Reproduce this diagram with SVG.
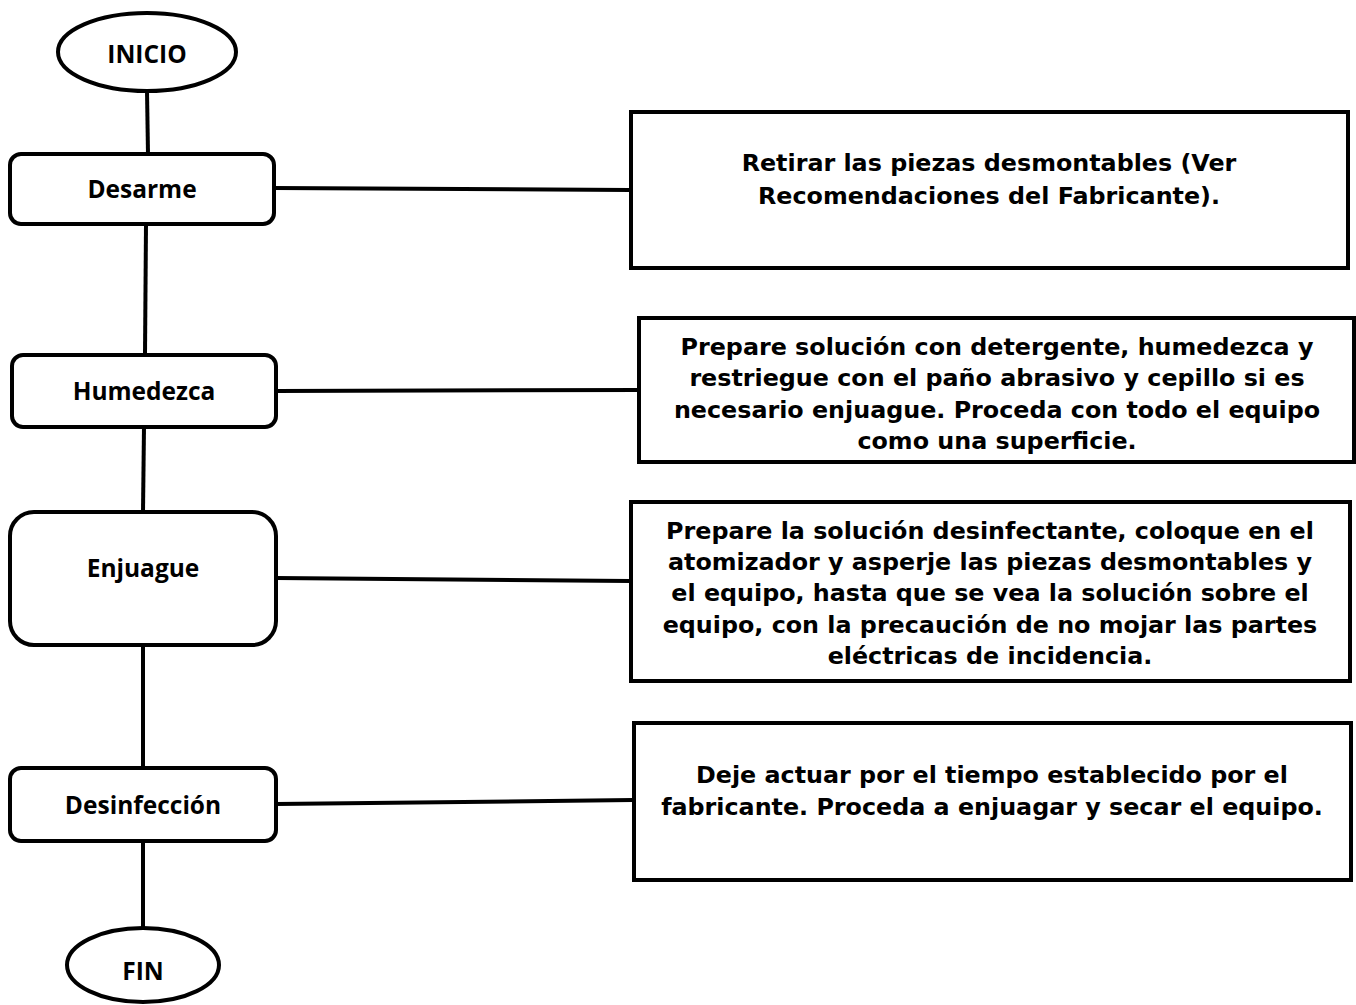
<svg xmlns="http://www.w3.org/2000/svg" width="1356" height="1005" viewBox="0 0 1356 1005">
<style>
.shape{fill:#fff;stroke:#000;stroke-width:4}
.conn line{stroke:#000;stroke-width:4}
.lbl{font-family:"Open Sans","Noto Sans","DejaVu Sans",sans-serif;font-weight:bold;font-size:24.5px;text-anchor:middle;fill:#000}
.desc{font-family:"DejaVu Sans","Verdana",sans-serif;font-weight:bold;font-size:23.8px;text-anchor:middle;fill:#000}
</style>
<rect width="1356" height="1005" fill="#fff"/>
<g class="conn" id="connectors">
<line x1="147" y1="91" x2="148" y2="154"/>
<line x1="146" y1="224" x2="145" y2="355"/>
<line x1="144" y1="427" x2="143" y2="512"/>
<line x1="143" y1="645" x2="143" y2="768"/>
<line x1="143" y1="841" x2="143" y2="928"/>
<line x1="274" y1="188" x2="630" y2="190"/>
<line x1="276" y1="391" x2="639" y2="390"/>
<line x1="276" y1="578" x2="630" y2="581"/>
<line x1="276" y1="804" x2="633" y2="800"/>
</g>
<g id="inicio"><ellipse class="shape" cx="147" cy="52" rx="89" ry="39"/><text class="lbl" x="147" y="63">INICIO</text></g>
<g id="desarme"><rect class="shape" x="10" y="154" width="264" height="70" rx="11"/><text class="lbl" x="142" y="198">Desarme</text></g>
<g id="humedezca"><rect class="shape" x="12" y="355" width="264" height="72" rx="11"/><text class="lbl" x="144" y="400">Humedezca</text></g>
<g id="enjuague"><rect class="shape" x="10" y="512" width="266" height="133" rx="24"/><text class="lbl" x="143" y="577">Enjuague</text></g>
<g id="desinfeccion"><rect class="shape" x="10" y="768" width="266" height="73" rx="11"/><text class="lbl" x="143" y="814">Desinfección</text></g>
<g id="fin"><ellipse class="shape" cx="143" cy="965" rx="76" ry="37"/><text class="lbl" x="143" y="980">FIN</text></g>
<g id="box1"><rect class="shape" x="631" y="112" width="717" height="156"/>
<text class="desc" x="989" y="171">Retirar las piezas desmontables (Ver</text>
<text class="desc" x="989" y="204">Recomendaciones del Fabricante).</text></g>
<g id="box2"><rect class="shape" x="639" y="318" width="715" height="144"/>
<text class="desc" x="997" y="355">Prepare solución con detergente, humedezca y</text>
<text class="desc" x="997" y="386">restriegue con el paño abrasivo y cepillo si es</text>
<text class="desc" x="997" y="418">necesario enjuague. Proceda con todo el equipo</text>
<text class="desc" x="997" y="449">como una superficie.</text></g>
<g id="box3"><rect class="shape" x="631" y="502" width="719" height="179"/>
<text class="desc" x="990" y="539">Prepare la solución desinfectante, coloque en el</text>
<text class="desc" x="990" y="570">atomizador y asperje las piezas desmontables y</text>
<text class="desc" x="990" y="601">el equipo, hasta que se vea la solución sobre el</text>
<text class="desc" x="990" y="633">equipo, con la precaución de no mojar las partes</text>
<text class="desc" x="990" y="664">eléctricas de incidencia.</text></g>
<g id="box4"><rect class="shape" x="634" y="723" width="717" height="157"/>
<text class="desc" x="992" y="783">Deje actuar por el tiempo establecido por el</text>
<text class="desc" x="992" y="815">fabricante. Proceda a enjuagar y secar el equipo.</text></g>
</svg>
